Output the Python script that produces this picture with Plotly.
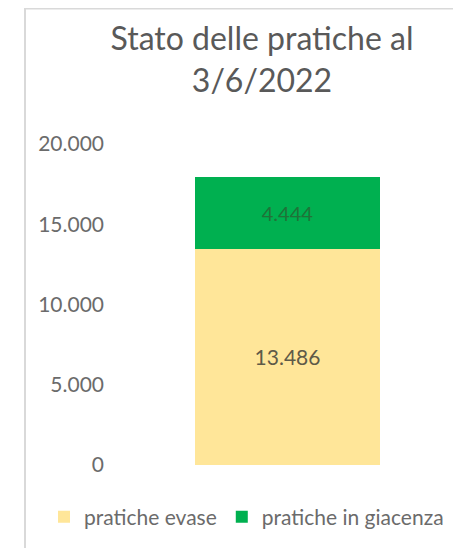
import plotly.graph_objects as go

categories = ["3/6/2022"]
evase = [13486]
giacenza = [4444]
series_names = ["pratiche evase", "pratiche in giacenza"]
y_ticks = [0, 5000, 10000, 15000, 20000]

FONT = "Lato"
GREY = "#6b6b6b"

W, H = 453, 540
L, R, T, B = 117, 11, 136, 83
plot_w = W - L - R
plot_h = H - T - B

fig = go.Figure()
fig.add_trace(go.Bar(
    x=categories, y=evase, name=series_names[0],
    marker=dict(color="#FFE699", line=dict(width=0)),
    texttemplate="%{y:,d}", textposition="inside", insidetextanchor="middle",
    textfont=dict(family=FONT, size=21, color="#5e5a48"),
    width=0.57,
))
fig.add_trace(go.Bar(
    x=categories, y=giacenza, name=series_names[1],
    marker=dict(color="#00B050", line=dict(width=0)),
    texttemplate="%{y:,d}", textposition="inside", insidetextanchor="middle",
    textfont=dict(family=FONT, size=20, color="#1f7338"),
    width=0.57,
))

# chart frame (left and top border lines of the Excel chart area)
fig.add_shape(type="rect", xref="paper", yref="paper",
              x0=(17 - L) / plot_w, x1=1.6,
              y0=-1.0, y1=(H - B - 0.5) / plot_h,
              line=dict(color="#d9d9d9", width=2), fillcolor="rgba(0,0,0,0)",
              layer="below")

fig.update_layout(
    width=W, height=H,
    barmode="stack",
    separators=",.",
    paper_bgcolor="white", plot_bgcolor="white",
    margin=dict(l=L, r=R, t=T, b=B),
    font=dict(family=FONT, color=GREY),
    title=dict(text="Stato delle pratiche al<br>3/6/2022",
               x=254 / W, xanchor="center", y=1 - 42 / H, yanchor="top",
               font=dict(family=FONT, size=32, color="#595959")),
    xaxis=dict(showticklabels=False, showgrid=False, zeroline=False,
               showline=False, ticks="", range=[-0.5, 0.5]),
    yaxis=dict(range=[0, 20000], tickvals=y_ticks, tickformat=",d",
               showgrid=False, zeroline=False, showline=False,
               ticklabelstandoff=20,
               tickfont=dict(family=FONT, size=21, color=GREY)),
    legend=dict(orientation="h", traceorder="normal",
                x=(36 - L) / plot_w, xanchor="left",
                y=-(509 - (H - B)) / plot_h, yanchor="middle",
                font=dict(family=FONT, size=21, color=GREY)),
    showlegend=True,
)

fig.write_html("out.html")
